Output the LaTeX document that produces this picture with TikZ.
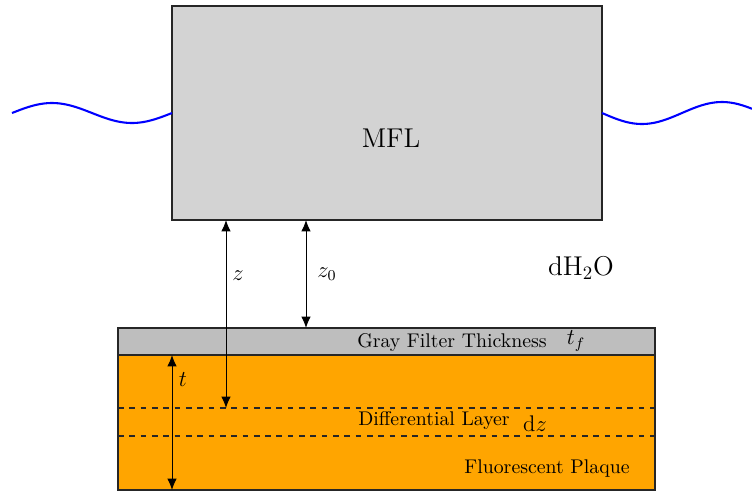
\documentclass[tikz,border=0pt]{standalone}
\usepackage{amsmath}
\usepackage{tikz}
\usetikzlibrary{arrows.meta,positioning}
\definecolor{plaque@orange}{RGB}{255,165,0}
\definecolor{plaque@filter}{RGB}{190,190,190}
\definecolor{plaque@mfl}{RGB}{211,211,211}
\tikzset{
  plaque/.style={
    x=0.53pt, y=-0.53pt,
    >={Latex[length=6pt,width=5pt]},
    line width=0.5pt,
    every node/.style={font=\fontsize{10.5}{12}\selectfont}
  },
  mflbox/.style={draw=black!85, line width=0.7pt, fill=plaque@mfl},
  filterbox/.style={draw=black!85, line width=0.7pt, fill=plaque@filter},
  platebox/.style={draw=black!85, line width=0.7pt, fill=plaque@orange},
  layerline/.style={dashed, line width=0.6pt, draw=black!85},
  dimarrow/.style={<->, line width=0.5pt, draw=black},
  wave/.style={draw=blue, line width=1.1pt},
  dimlabel/.style={font=\large, inner sep=1pt}
}
\begin{document}
\begin{tikzpicture}[plaque]
\useasboundingbox (0,0) rectangle (752,491);

% Corners of the three slabs
\coordinate (mflnw) at (172,6);
\coordinate (mflse) at (602,220);
\coordinate (filternw) at (118,328);
\coordinate (filterse) at (655,355);
\coordinate (platese) at (655,490);

% Slabs
\draw[mflbox] (mflnw) rectangle (mflse);
\draw[filterbox] (filternw) rectangle (filterse);
\draw[platebox] (filternw |- filterse) rectangle (platese);

% Waves on both sides of the MFL
\draw[wave] plot[domain=12:172, samples=60, smooth] (\x, {113-10*sin(2.25*(\x-12))});
\draw[wave] plot[domain=602:752, samples=60, smooth] (\x, {113+11*sin(2.25*(\x-602))});

% Differential layer
\coordinate (layertop) at (118,408);
\coordinate (layerbot) at (118,436);
\draw[layerline] (layertop) -- (layertop -| platese);
\draw[layerline] (layerbot) -- (layerbot -| platese);

% Texts
\node[font=\Large] (mfl) at (391,138) {MFL};
\node[font=\Large] (water) at (581,268) {$\mathrm{dH_2O}$};
\node (filter) at (452,343) {Gray Filter Thickness};
\node[font=\large] (tf) at (576,341) {$t_f$};
\node (layer) at (434,421) {Differential Layer};
\node[font=\large] (dz) at (535,424) {$\mathrm{d}z$};
\node (fluo) at (547,469) {Fluorescent Plaque};

% Distances
\coordinate (ztop) at (226,220);
\coordinate (zbot) at (ztop |- layertop);
\coordinate (zotop) at (306,220);
\coordinate (zobot) at (zotop |- filternw);
\coordinate (ttop) at (172,355);
\coordinate (tbot) at (172,490);
\draw[dimarrow] (ztop) -- (zbot);
\draw[dimarrow] (zotop) -- (zobot);
\draw[dimarrow] (ttop) -- (tbot);
\node[dimlabel] (zlab) at (238,276) {$z$};
\node[dimlabel] (zolab) at (327,274) {$z_0$};
\node[dimlabel] (tlab) at (183,380) {$t$};

\end{tikzpicture}
\end{document}
